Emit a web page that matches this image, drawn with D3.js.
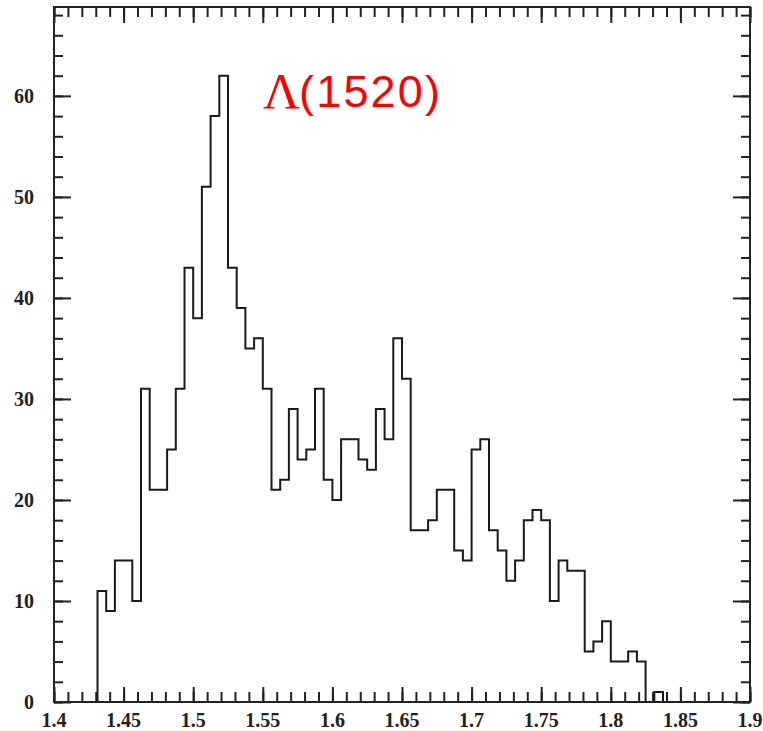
<!DOCTYPE html>
<html>
<head>
<meta charset="utf-8">
<script src="https://cdn.jsdelivr.net/npm/d3@7"></script>
<style>
  body { margin: 0; background: #fff; }
  svg { display: block; }
</style>
</head>
<body>
<div id="chart"></div>
<script>
// histogram definition: 80 bins from 1.4 to 1.9
const xMin = 1.4;
const xMax = 1.9;
const nBins = 80;
const counts = [
  0, 0, 0, 0, 0, 11, 9, 14, 14, 10,
  31, 21, 21, 25, 31, 43, 38, 51, 58, 62,
  43, 39, 35, 36, 31, 21, 22, 29, 24, 25,
  31, 22, 20, 26, 26, 24, 23, 29, 26, 36,
  32, 17, 17, 18, 21, 21, 15, 14, 25, 26,
  17, 15, 12, 14, 18, 19, 18, 10, 14, 13,
  13, 5, 6, 8, 4, 4, 5, 4, 0, 1,
  0, 0, 0, 0, 0, 0, 0, 0, 0, 0
];
const xMajor = [1.4, 1.45, 1.5, 1.55, 1.6, 1.65, 1.7, 1.75, 1.8, 1.85, 1.9];
const xLabels = ["1.4", "1.45", "1.5", "1.55", "1.6", "1.65", "1.7", "1.75", "1.8", "1.85", "1.9"];
const yMajor = [0, 10, 20, 30, 40, 50, 60];
const yMax = 68.8;
const title = ["\u039B", "(1520)"];

const width = 763, height = 731;
const margin = { top: 7, right: 13, bottom: 29, left: 54 };

const svg = d3.select("#chart").append("svg")
  .attr("width", width)
  .attr("height", height);

const x = d3.scaleLinear().domain([xMin, xMax]).range([margin.left, width - margin.right]);
const y = d3.scaleLinear().domain([0, yMax]).range([height - margin.bottom, margin.top]);

const binW = (xMax - xMin) / nBins;
const pts = counts.map((c, i) => [xMin + i * binW, c]);
pts.push([xMax, counts[counts.length - 1]]);

const xMinor = d3.range(0, 51).map(i => xMin + i * 0.01);
const yMinor = d3.range(0, 35).map(i => i * 2).filter(v => v <= yMax);

const axisG = svg.append("g").attr("class", "axes");

function tickAxis(axis, transform, vals, size) {
  const g = axisG.append("g")
    .attr("transform", transform)
    .call(axis.tickValues(vals).tickSize(size).tickFormat(""));
  g.select(".domain").remove();
  g.selectAll(".tick line").attr("stroke", "#222").attr("stroke-width", 2);
  return g;
}

const bottomY = height - margin.bottom;
const rightX = width - margin.right;

// bottom & top
tickAxis(d3.axisBottom(x), `translate(0,${bottomY})`, xMinor, -10);
tickAxis(d3.axisBottom(x), `translate(0,${bottomY})`, xMajor, -15);
tickAxis(d3.axisTop(x), `translate(0,${margin.top})`, xMinor, -10);
tickAxis(d3.axisTop(x), `translate(0,${margin.top})`, xMajor, -16);
// left & right
tickAxis(d3.axisLeft(y), `translate(${margin.left},0)`, yMinor, -9);
tickAxis(d3.axisLeft(y), `translate(${margin.left},0)`, yMajor, -17);
tickAxis(d3.axisRight(y), `translate(${rightX},0)`, yMinor, -9);
tickAxis(d3.axisRight(y), `translate(${rightX},0)`, yMajor, -17);

// labels
svg.append("g").selectAll("text")
  .data(xMajor)
  .join("text")
  .attr("x", d => x(d))
  .attr("y", bottomY + 25)
  .attr("text-anchor", "middle")
  .style("font-family", "'Liberation Serif', serif")
  .style("font-weight", "bold")
  .style("font-size", "20px")
  .style("fill", "#222")
  .text((d, i) => xLabels[i]);

svg.append("g").selectAll("text")
  .data(yMajor)
  .join("text")
  .attr("x", 34)
  .attr("y", d => y(d))
  .attr("dy", "0.35em")
  .attr("text-anchor", "end")
  .style("font-family", "'Liberation Serif', serif")
  .style("font-weight", "bold")
  .style("font-size", "20px")
  .style("fill", "#222")
  .text(d => d);

// histogram
const line = d3.line()
  .x(d => x(d[0]))
  .y(d => y(d[1]))
  .curve(d3.curveStepAfter);

svg.append("path")
  .datum(pts)
  .attr("d", line)
  .attr("fill", "none")
  .attr("stroke", "#1a1a1a")
  .attr("stroke-width", 2);

// frame
svg.append("rect")
  .attr("x", margin.left)
  .attr("y", margin.top)
  .attr("width", rightX - margin.left)
  .attr("height", bottomY - margin.top)
  .attr("fill", "none")
  .attr("stroke", "#222")
  .attr("stroke-width", 2);

// title
svg.append("text")
  .attr("x", 263)
  .attr("y", 108)
  .style("fill", "#ff0000")
  .style("font-family", "'Liberation Serif', serif")
  .style("font-size", "51px")
  .text(title[0]);
svg.append("text")
  .attr("x", 299)
  .attr("y", 107)
  .attr("textLength", 141)
  .attr("lengthAdjust", "spacing")
  .style("fill", "#ff0000")
  .style("font-family", "'Liberation Sans', sans-serif")
  .style("font-size", "45px")
  .text(title[1]);
</script>
</body>
</html>
